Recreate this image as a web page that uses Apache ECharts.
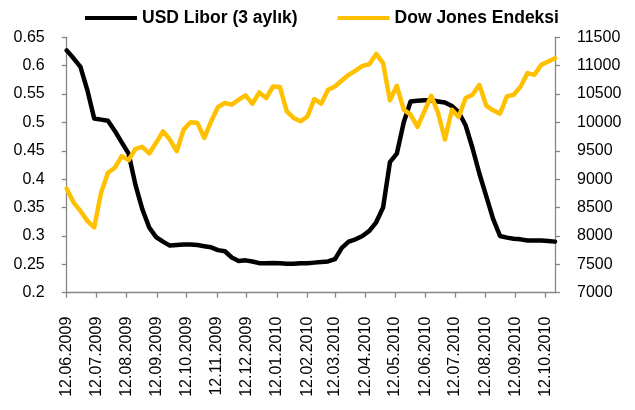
<!DOCTYPE html>
<html><head><meta charset="utf-8">
<script src="https://cdn.jsdelivr.net/npm/echarts@6/dist/echarts.min.js"></script>
<style>html,body{margin:0;padding:0;background:#fff}#c{width:635px;height:410px}</style>
</head><body><div id="c"></div>
<script>
const dates = [
"12.06.2009","19.06.2009","26.06.2009","03.07.2009","10.07.2009","17.07.2009","24.07.2009","31.07.2009",
"07.08.2009","14.08.2009","21.08.2009","28.08.2009","04.09.2009","11.09.2009","18.09.2009","25.09.2009",
"02.10.2009","09.10.2009","16.10.2009","23.10.2009","30.10.2009","06.11.2009","13.11.2009","20.11.2009",
"27.11.2009","04.12.2009","11.12.2009","18.12.2009","25.12.2009","01.01.2010","08.01.2010","15.01.2010",
"22.01.2010","29.01.2010","05.02.2010","12.02.2010","19.02.2010","26.02.2010","05.03.2010","12.03.2010",
"19.03.2010","26.03.2010","02.04.2010","09.04.2010","16.04.2010","23.04.2010","30.04.2010","07.05.2010",
"14.05.2010","21.05.2010","28.05.2010","04.06.2010","11.06.2010","18.06.2010","25.06.2010","02.07.2010",
"09.07.2010","16.07.2010","23.07.2010","30.07.2010","06.08.2010","13.08.2010","20.08.2010","27.08.2010",
"03.09.2010","10.09.2010","17.09.2010","24.09.2010","01.10.2010","08.10.2010","15.10.2010","22.10.2010"];
const libor = [
0.627,0.613,0.598,0.557,0.507,0.505,0.503,0.485,0.465,0.445,0.39,0.347,0.315,0.298,0.29,0.283,
0.284,0.285,0.285,0.284,0.282,0.28,0.275,0.273,0.262,0.256,0.257,0.255,0.252,0.252,0.2525,0.252,
0.251,0.251,0.252,0.252,0.253,0.254,0.255,0.259,0.279,0.29,0.294,0.30,0.309,0.324,0.35,0.43,
0.445,0.50,0.537,0.538,0.539,0.539,0.537,0.535,0.529,0.518,0.495,0.455,0.41,0.37,0.33,0.30,
0.297,0.295,0.294,0.292,0.292,0.292,0.291,0.290];
const dow = [
8830,8588,8441,8266,8150,8763,9114,9202,9406,9336,9535,9570,9453,9641,9844,9699,
9493,9874,10002,9992,9728,10020,10272,10342,10313,10400,10476,10330,10528,10430,10633,10623,
10195,10079,10020,10105,10413,10330,10576,10633,10739,10839,10914,10997,11026,11207,11044,10388,
10646,10225,10137,9921,10195,10470,10167,9699,10225,10097,10430,10488,10663,10295,10213,10155,
10459,10488,10633,10869,10839,11014,11072,11131];
const tickLabels = ["12.06.2009","12.07.2009","12.08.2009","12.09.2009","12.10.2009","12.11.2009",
"12.12.2009","12.01.2010","12.02.2010","12.03.2010","12.04.2010","12.05.2010","12.06.2010",
"12.07.2010","12.08.2010","12.09.2010","12.10.2010"];
const axisStart = "12.06.2009", axisEnd = "22.10.2010";
const seriesNames = ["USD Libor (3 aylık)","Dow Jones Endeksi"];

function ts(s){const p=s.split('.');return Date.UTC(+p[2],+p[1]-1,+p[0]);}
const DAY = 86400000;
const t0 = ts(axisStart);
function dayOf(s){return Math.round((ts(s)-t0)/DAY);}
const tickDays = tickLabels.map(dayOf);
function labelFor(v){const i=tickDays.indexOf(Math.round(v));return i>=0?tickLabels[i]:'';}
const FONT = '"Liberation Sans", Arial, sans-serif';
const AX = '#868686';

const chart = echarts.init(document.getElementById('c'), null, {renderer:'canvas'});
chart.setOption({
  animation:false,
  backgroundColor:'#fff',
  textStyle:{fontFamily:FONT},
  legend:{
    left:80, top:4, itemGap:40, itemWidth:52, itemHeight:4, icon:'rect',
    textStyle:{fontFamily:FONT, fontSize:17.5, fontWeight:'bold', color:'#000'},
    data:seriesNames
  },
  grid:{left:66.7, right:80, top:37.3, bottom:117.3, containLabel:false},
  xAxis:{
    type:'value', min:0, max:dayOf(axisEnd),
    splitLine:{show:false},
    axisLine:{lineStyle:{color:AX, width:1.3}},
    axisTick:{show:true, length:5, inside:false, lineStyle:{color:AX, width:1.3}, customValues:tickDays},
    axisLabel:{customValues:tickDays, rotate:90, margin:24, fontSize:16, color:'#000', fontFamily:FONT,
      formatter:labelFor, hideOverlap:false}
  },
  yAxis:[{
    type:'value', min:0.2, max:0.65, interval:0.05, position:'left',
    splitLine:{show:false},
    axisLine:{show:true, lineStyle:{color:AX, width:1.3}},
    axisTick:{show:true, length:5, lineStyle:{color:AX, width:1.3}},
    axisLabel:{margin:22, fontSize:16, color:'#000', fontFamily:FONT,
      formatter:function(v){return String(+v.toFixed(2));}}
  },{
    type:'value', min:7000, max:11500, interval:500, position:'right',
    splitLine:{show:false},
    axisLine:{show:true, lineStyle:{color:AX, width:1.3}},
    axisTick:{show:true, length:5, lineStyle:{color:AX, width:1.3}},
    axisLabel:{margin:22, fontSize:16, color:'#000', fontFamily:FONT,
      formatter:function(v){return String(Math.round(v));}}
  }],
  series:[{
    name:seriesNames[0], type:'line', yAxisIndex:0, showSymbol:false, symbol:'none',
    color:'#000000', lineStyle:{width:4.5, color:'#000000', join:'round', cap:'round'},
    data:dates.map((d,i)=>[dayOf(d), libor[i]])
  },{
    name:seriesNames[1], type:'line', yAxisIndex:1, showSymbol:false, symbol:'none',
    color:'#FFC000', lineStyle:{width:4.5, color:'#FFC000', join:'round', cap:'round'},
    data:dates.map((d,i)=>[dayOf(d), dow[i]])
  }]
});
</script></body></html>
